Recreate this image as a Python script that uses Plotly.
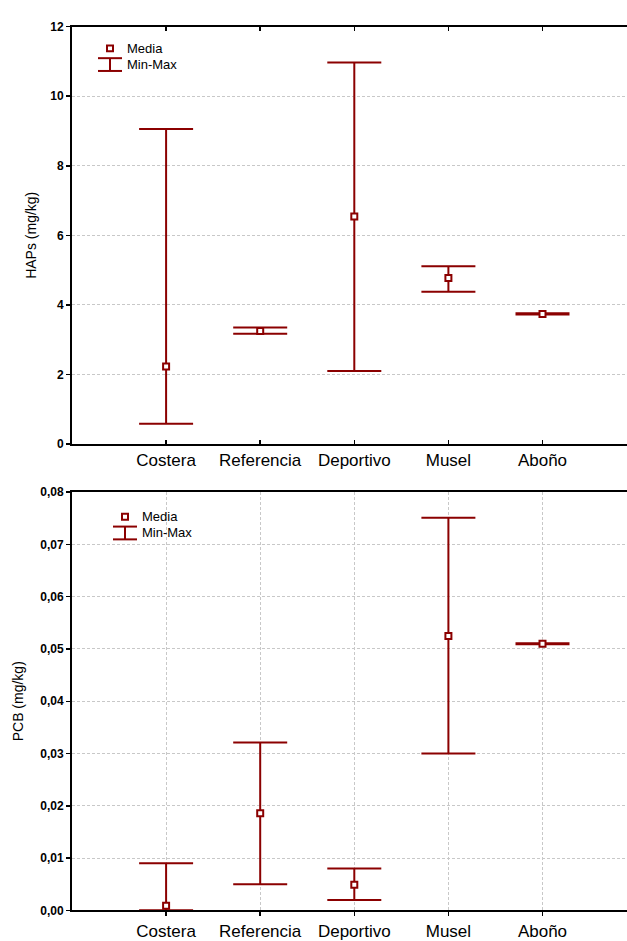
import plotly.graph_objects as go

categories = ["Costera", "Referencia", "Deportivo", "Musel", "Aboño"]
cat_pos = [1, 2, 3, 4, 5]

hap_mean = [2.23, 3.25, 6.54, 4.77, 3.74]
hap_min = [0.58, 3.17, 2.10, 4.38, 3.72]
hap_max = [9.06, 3.35, 10.97, 5.11, 3.76]

pcb_mean = [0.0009, 0.0186, 0.0049, 0.0525, 0.0510]
pcb_min = [0.0000, 0.0050, 0.0020, 0.0300, 0.0509]
pcb_max = [0.0090, 0.0321, 0.0080, 0.0751, 0.0511]

RED = "#8b0000"
FONT = "Arial, Liberation Sans, sans-serif"
W, H = 627, 941
ML = 72


def trace(mean, lo, hi, xa, ya):
    return go.Scatter(
        x=cat_pos, y=mean, xaxis=xa, yaxis=ya, mode="markers",
        marker=dict(symbol="square", size=6, color="white",
                    line=dict(color=RED, width=2)),
        error_y=dict(type="data", symmetric=False,
                     array=[h - m for h, m in zip(hi, mean)],
                     arrayminus=[m - l for m, l in zip(mean, lo)],
                     color=RED, thickness=2, width=27),
        showlegend=False, cliponaxis=False, hoverinfo="skip",
    )


fig = go.Figure()
fig.add_trace(trace(hap_mean, hap_min, hap_max, "x", "y"))
fig.add_trace(trace(pcb_mean, pcb_min, pcb_max, "x2", "y2"))

top_dom = [1 - 444 / H, 1 - 20 / H]
bot_dom = [1 - 918 / H, 1 - 493 / H]
xr = [0, (W - ML) / 94.1]

xcommon = dict(range=xr, tickmode="array", tickvals=cat_pos, ticktext=categories,
               showline=True, linecolor="black", linewidth=2, ticklen=4,
               tickcolor="black", tickwidth=1.5, zeroline=False,
               tickfont=dict(family=FONT, size=17, color="black"))
ycommon = dict(showline=True, linecolor="black", linewidth=2, ticks="outside",
               ticklen=4, tickcolor="black", tickwidth=1.5, zeroline=False,
               showgrid=True, gridcolor="#c8c8c8", griddash="3px,2px", gridwidth=1,
               tickfont=dict(family=FONT, size=12, color="black", weight="bold"),
               title_font=dict(family=FONT, size=14, color="black"))

fig.update_layout(
    width=W, height=H,
    margin=dict(l=ML, r=0, t=0, b=0),
    paper_bgcolor="white", plot_bgcolor="white",
    separators=",.",
    xaxis=dict(domain=[0, 1], anchor="y", ticks="inside", mirror="ticks",
               showgrid=False, **xcommon),
    yaxis=dict(domain=top_dom, anchor="x", range=[0, 12], dtick=2,
               title=dict(text="HAPs (mg/kg)", standoff=10), **ycommon),
    xaxis2=dict(domain=[0, 1], anchor="y2", ticks="outside", mirror=True,
                showgrid=True, gridcolor="#c8c8c8", griddash="3px,2px", gridwidth=1,
                **xcommon),
    yaxis2=dict(domain=bot_dom, anchor="x2", range=[0, 0.08], dtick=0.01,
                tickformat=".2f",
                title=dict(text="PCB (mg/kg)", standoff=13), **ycommon),
)


# Legend (manual, to show the Min-Max whisker icon); positions in page pixels
def px(xv):
    return (xv - ML) / (W - ML)


def py(yv):
    return 1 - yv / H


def legend(x0, ymed, ymm):
    line = dict(color=RED, width=2)
    shapes = [
        dict(type="rect", xref="paper", yref="paper",
             x0=px(x0 - 3), x1=px(x0 + 3), y0=py(ymed + 3), y1=py(ymed - 3),
             line=line, fillcolor="white"),
        dict(type="line", xref="paper", yref="paper",
             x0=px(x0 - 12), x1=px(x0 + 12), y0=py(ymm - 6.5), y1=py(ymm - 6.5),
             line=line),
        dict(type="line", xref="paper", yref="paper",
             x0=px(x0 - 12), x1=px(x0 + 12), y0=py(ymm + 6.5), y1=py(ymm + 6.5),
             line=line),
        dict(type="line", xref="paper", yref="paper",
             x0=px(x0), x1=px(x0), y0=py(ymm - 6.5), y1=py(ymm + 6.5),
             line=line),
    ]
    anns = [
        dict(xref="paper", yref="paper", x=px(x0 + 15), y=py(ymed), text="Media",
             showarrow=False, xanchor="left", yanchor="middle",
             font=dict(family=FONT, size=13, color="black")),
        dict(xref="paper", yref="paper", x=px(x0 + 15), y=py(ymm), text="Min-Max",
             showarrow=False, xanchor="left", yanchor="middle",
             font=dict(family=FONT, size=13, color="black")),
    ]
    return shapes, anns


s1, a1 = legend(110, 42, 58.5)
s2, a2 = legend(125, 518, 534.5)
fig.update_layout(shapes=s1 + s2, annotations=a1 + a2, hovermode=False)

fig.write_html("out.html", config={"displayModeBar": False, "staticPlot": True},
               post_script="document.body.style.margin='0px';document.body.style.overflow='hidden';")
